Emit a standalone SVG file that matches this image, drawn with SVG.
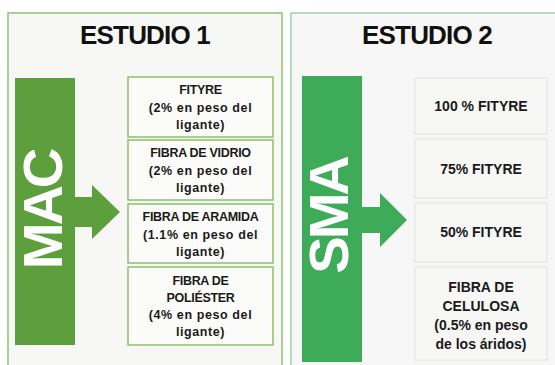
<svg xmlns="http://www.w3.org/2000/svg" width="555" height="365" viewBox="0 0 555 365">
<style>
.title{font-family:"Liberation Sans",Arial,sans-serif;font-weight:bold;font-size:26px;fill:#111;text-anchor:middle;letter-spacing:-0.8px}
.big{font-family:"Liberation Sans",Arial,sans-serif;font-weight:bold;font-size:56px;fill:#fff;text-anchor:middle;letter-spacing:-3px}
.lt{font-family:"Liberation Sans",Arial,sans-serif;font-weight:bold;font-size:12.5px;fill:#1a1a1a;text-anchor:middle;letter-spacing:-0.3px}
.lw{letter-spacing:0.6px}
.rt{font-family:"Liberation Sans",Arial,sans-serif;font-weight:bold;font-size:14px;fill:#1a1a1a;text-anchor:middle}
.lbox{fill:#fbfcf9;stroke:#8dc06b;stroke-width:1.5}
.rbox{fill:#f7f7f6;stroke:#e6e7e5;stroke-width:1.2}
</style>
<rect x="0" y="0" width="555" height="365" fill="#ffffff"/>
<g id="panel1">
<rect x="8" y="13" width="274" height="360" fill="#f7f8f6" stroke="#8cc46c" stroke-width="1.5"/>
<text class="title" x="145" y="44">ESTUDIO 1</text>
</g>
<g id="panel2">
<rect x="291" y="13" width="270" height="360" fill="#f6f7f6" stroke="#9fd4a6" stroke-width="1.5"/>
<text class="title" x="427" y="44">ESTUDIO 2</text>
</g>
<g id="connectors">
<path d="M74,197 H92 V185 L120,212 L92,239 V227 H74 Z" fill="#5e9f3d"/>
<path d="M361,207 H380 V193 L407,220 L380,247 V233 H361 Z" fill="#3dab58"/>
</g>
<g id="mac">
<rect x="15" y="78" width="60" height="267" fill="#5e9f3d"/>
<text class="big" transform="translate(62,210) rotate(-90)">MAC</text>
</g>
<g id="sma">
<rect x="302" y="76" width="60" height="286" fill="#3dab58"/>
<text class="big" transform="translate(348,216) rotate(-90)">SMA</text>
</g>
<g id="l1">
<rect class="lbox" x="128" y="77" width="145" height="60"/>
<text class="lt" x="200.5" y="94">FITYRE</text>
<text class="lt lw" x="200.5" y="111.5">(2% en peso del</text>
<text class="lt lw" x="200.5" y="129">ligante)</text>
</g>
<g id="l2">
<rect class="lbox" x="128" y="140" width="145" height="60"/>
<text class="lt" x="200.5" y="157">FIBRA DE VIDRIO</text>
<text class="lt lw" x="200.5" y="174.5">(2% en peso del</text>
<text class="lt lw" x="200.5" y="192">ligante)</text>
</g>
<g id="l3">
<rect class="lbox" x="128" y="204" width="145" height="59"/>
<text class="lt" x="200.5" y="221">FIBRA DE ARAMIDA</text>
<text class="lt lw" x="200.5" y="238.5">(1.1% en peso del</text>
<text class="lt lw" x="200.5" y="256">ligante)</text>
</g>
<g id="l4">
<rect class="lbox" x="128" y="267" width="145" height="78"/>
<text class="lt" x="200.5" y="285">FIBRA DE</text>
<text class="lt" x="200.5" y="302">POLIÉSTER</text>
<text class="lt lw" x="200.5" y="319">(4% en peso del</text>
<text class="lt lw" x="200.5" y="336">ligante)</text>
</g>
<g id="r1">
<rect class="rbox" x="415" y="78" width="132" height="56"/>
<text class="rt" x="481" y="111">100 % FITYRE</text>
</g>
<g id="r2">
<rect class="rbox" x="415" y="139" width="132" height="59"/>
<text class="rt" x="481" y="174">75% FITYRE</text>
</g>
<g id="r3">
<rect class="rbox" x="415" y="203" width="132" height="59"/>
<text class="rt" x="481" y="237">50% FITYRE</text>
</g>
<g id="r4">
<rect class="rbox" x="415" y="267" width="132" height="93"/>
<text class="rt" x="481" y="292">FIBRA DE</text>
<text class="rt" x="481" y="311">CELULOSA</text>
<text class="rt" x="481" y="330">(0.5% en peso</text>
<text class="rt" x="481" y="349">de los áridos)</text>
</g>
</svg>
